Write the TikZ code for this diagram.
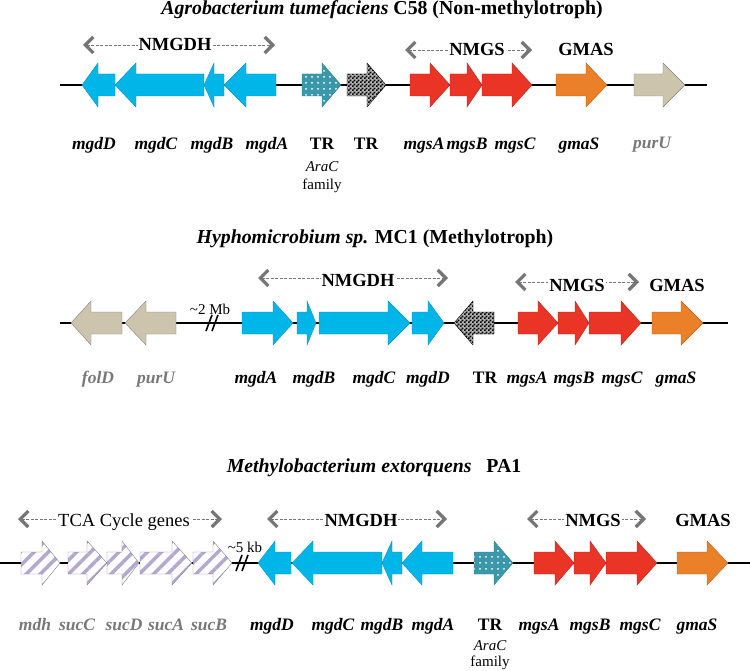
\documentclass[tikz,border=0pt]{standalone}
\usepackage{fontspec}
\setmainfont{Liberation Serif}
\usetikzlibrary{arrows.meta,patterns,patterns.meta}
\definecolor{gcyan}{RGB}{0,182,232}
\definecolor{gred}{RGB}{234,52,38}
\definecolor{gorange}{RGB}{234,128,40}
\definecolor{gtan}{RGB}{204,196,172}
\definecolor{gteal}{RGB}{58,152,170}
\definecolor{glav}{RGB}{180,168,208}
\definecolor{ggray}{RGB}{118,118,118}
\definecolor{lgray}{RGB}{120,120,120}
\pgfdeclarepatternformonly{finechecker}{\pgfpointorigin}{\pgfqpoint{4pt}{4pt}}{\pgfqpoint{4pt}{4pt}}{%
 \pgfpathrectangle{\pgfpointorigin}{\pgfqpoint{2pt}{2pt}}%
 \pgfpathrectangle{\pgfqpoint{2pt}{2pt}}{\pgfqpoint{2pt}{2pt}}%
 \pgfusepath{fill}}
\newcommand\rgene[5]{\draw[#1] (#2,#5-11) -- (#3,#5-11) -- (#3,#5-22) -- (#4,#5) -- (#3,#5+22) -- (#3,#5+11) -- (#2,#5+11) -- cycle;}
\newcommand\lgene[5]{\draw[#1] (#2,#5) -- (#3,#5-22) -- (#3,#5-11) -- (#4,#5-11) -- (#4,#5+11) -- (#3,#5+11) -- (#3,#5+22) -- cycle;}
\tikzset{
  cyang/.style={fill=gcyan, draw=gcyan!80!black, line width=0.4pt},
  redg/.style={fill=gred, draw=gred!75!black, line width=0.4pt},
  orangeg/.style={fill=gorange, draw=gorange!75!black, line width=0.4pt},
  tang/.style={fill=gtan, draw=gray, line width=0.4pt},
  dotg/.style={preaction={fill=gteal}, pattern={Dots[distance=6pt,radius=1pt]}, pattern color=white, draw=gteal!80!black, line width=0.4pt},
  checkg/.style={preaction={fill=gray!60}, pattern=finechecker, pattern color=black, draw=black, line width=0.4pt},
  stripeg/.style={preaction={fill=white}, pattern={Lines[angle=45,distance=10pt,line width=3.5pt]}, pattern color=glav, draw=gray, line width=0.4pt},
  chrom/.style={line width=1.6pt, black},
  brk/.style={line width=1.6pt, black},
  rng/.style={ggray, line width=0.7pt, dash pattern=on 3pt off 1.5pt, {Straight Barb[length=8pt,width=16pt,line width=3.2pt]}-{Straight Barb[length=8pt,width=16pt,line width=3.2pt]}},
  lbl/.style={anchor=base, inner sep=0pt, font=\fontsize{17.5}{20}\selectfont\bfseries\itshape},
  glbl/.style={lbl, text=lgray},
  trl/.style={anchor=base, inner sep=0pt, font=\fontsize{17.5}{20}\selectfont\bfseries},
  small/.style={anchor=base, inner sep=0pt, font=\fontsize{15}{16}\selectfont},
  grp/.style={anchor=base, inner sep=1pt, fill=white, font=\fontsize{18.5}{20}\selectfont\bfseries},
  ttl/.style={anchor=base, inner sep=0pt, font=\fontsize{19.8}{22}\selectfont\bfseries},
}
\begin{document}
\begin{tikzpicture}[x=1pt,y=-1pt]
\useasboundingbox (0,0) rectangle (750,671);
% ---------------- Row 1 ----------------
\node[ttl] (t1) at (382,15) {\itshape Agrobacterium tumefaciens\/ \upshape C58 (Non-methylotroph)};
\coordinate (r1a) at (60,85); \coordinate (r1b) at (707,85);
\draw[chrom] (r1a) -- (r1b);
\lgene{cyang}{82}{98}{115}{85}
\lgene{cyang}{115}{136}{204}{85}
\lgene{cyang}{204}{214}{224}{85}
\lgene{cyang}{224}{246}{276}{85}
\rgene{dotg}{302}{322}{341}{85}
\rgene{checkg}{347}{367}{386}{85}
\rgene{redg}{410}{430}{450}{85}
\rgene{redg}{450}{467}{482}{85}
\rgene{redg}{482}{512}{532}{85}
\rgene{orangeg}{556}{586}{607}{85}
\rgene{tang}{634}{663}{685}{85}
\coordinate (n1a) at (83,45); \coordinate (n1b) at (275,45);
\draw[rng] (n1a) -- (n1b);
\node[grp] (n1) at (175,51) {NMGDH};
\coordinate (s1a) at (405,50); \coordinate (s1b) at (532,50);
\draw[rng] (s1a) -- (s1b);
\node[grp] (s1) at (477,56) {NMGS};
\node[grp] (g1) at (586,56) {GMAS};
\node[lbl] (l1a) at (94,150) {mgdD};
\node[lbl] (l1b) at (156,150) {mgdC};
\node[lbl] (l1c) at (212,150) {mgdB};
\node[lbl] (l1d) at (267,150) {mgdA};
\node[trl] (l1e) at (322,150) {TR};
\node[small] (l1e2) at (322,172) {\itshape AraC};
\node[small] (l1e3) at (322,190) {family};
\node[trl] (l1f) at (366,150) {TR};
\node[lbl] (l1g) at (424,150) {mgsA};
\node[lbl] (l1h) at (467,150) {mgsB};
\node[lbl] (l1i) at (515,150) {mgsC};
\node[lbl] (l1j) at (579,150) {gmaS};
\node[glbl] (l1k) at (652,149) {purU};
% ---------------- Row 2 ----------------
\node[ttl] (t2) at (375,244) {\itshape Hyphomicrobium sp.\/ \upshape MC1 (Methylotroph)};
\coordinate (r2a) at (60,323); \coordinate (r2b) at (728,323);
\draw[chrom] (r2a) -- (r2b);
\lgene{tang}{71}{91}{122}{323}
\lgene{tang}{125}{146}{176}{323}
\draw[brk] (206,331) -- (212,315);
\draw[brk] (212,331) -- (218,315);
\node[small] (mb) at (210,315) {\textasciitilde 2 Mb};
\rgene{cyang}{242}{273}{293}{323}
\rgene{cyang}{297}{307}{316}{323}
\rgene{cyang}{319}{388}{410}{323}
\rgene{cyang}{412}{428}{444}{323}
\lgene{checkg}{454}{473}{494}{323}
\rgene{redg}{518}{538}{558}{323}
\rgene{redg}{558}{575}{589}{323}
\rgene{redg}{589}{621}{641}{323}
\rgene{orangeg}{652}{681}{703}{323}
\coordinate (n2a) at (258,278); \coordinate (n2b) at (448,278);
\draw[rng] (n2a) -- (n2b);
\node[grp] (n2) at (358,287) {NMGDH};
\coordinate (s2a) at (515,282); \coordinate (s2b) at (639,282);
\draw[rng] (s2a) -- (s2b);
\node[grp] (s2) at (577,291) {NMGS};
\node[grp] (g2) at (677,291) {GMAS};
\node[glbl] (l2a) at (98,383) {folD};
\node[glbl] (l2b) at (156,383) {purU};
\node[lbl] (l2c) at (256,383) {mgdA};
\node[lbl] (l2d) at (314,383) {mgdB};
\node[lbl] (l2e) at (374,383) {mgdC};
\node[lbl] (l2f) at (428,383) {mgdD};
\node[trl] (l2g) at (485,383) {TR};
\node[lbl] (l2h) at (527,383) {mgsA};
\node[lbl] (l2i) at (574,383) {mgsB};
\node[lbl] (l2j) at (622,383) {mgsC};
\node[lbl] (l2k) at (676,383) {gmaS};
% ---------------- Row 3 ----------------
\node[ttl] (t3) at (374,472) {\itshape Methylobacterium extorquens\/ \upshape\ \ PA1};
\coordinate (r3a) at (0,563); \coordinate (r3b) at (750,563);
\draw[chrom] (r3a) -- (r3b);
\rgene{stripeg}{21}{42}{60}{563}
\rgene{stripeg}{68}{87}{107}{563}
\rgene{stripeg}{107}{122}{139}{563}
\rgene{stripeg}{140}{172}{192}{563}
\rgene{stripeg}{193}{213}{232}{563}
\draw[brk] (236,571) -- (242,555);
\draw[brk] (242,571) -- (248,555);
\node[small] (kb) at (245,552) {\textasciitilde 5 kb};
\lgene{cyang}{258}{275}{291}{563}
\lgene{cyang}{292}{313}{382}{563}
\lgene{cyang}{382}{392}{402}{563}
\lgene{cyang}{402}{422}{453}{563}
\rgene{dotg}{474}{494}{513}{563}
\rgene{redg}{534}{555}{574}{563}
\rgene{redg}{574}{590}{606}{563}
\rgene{redg}{606}{637}{657}{563}
\rgene{orangeg}{677}{707}{728}{563}
\coordinate (c3a) at (18,519); \coordinate (c3b) at (222,519);
\draw[rng] (c3a) -- (c3b);
\node[grp, font=\fontsize{18.5}{20}\selectfont] (c3) at (124,526) {TCA Cycle genes};
\coordinate (n3a) at (267,519); \coordinate (n3b) at (447,519);
\draw[rng] (n3a) -- (n3b);
\node[grp] (n3) at (361,526) {NMGDH};
\coordinate (s3a) at (527,519); \coordinate (s3b) at (646,519);
\draw[rng] (s3a) -- (s3b);
\node[grp] (s3) at (593,526) {NMGS};
\node[grp] (g3) at (703,526) {GMAS};
\node[glbl] (l3a) at (35,630) {mdh};
\node[glbl] (l3b) at (77,630) {sucC};
\node[glbl] (l3c) at (124,630) {sucD};
\node[glbl] (l3d) at (166,630) {sucA};
\node[glbl] (l3e) at (209,630) {sucB};
\node[lbl] (l3f) at (272,630) {mgdD};
\node[lbl] (l3g) at (333,630) {mgdC};
\node[lbl] (l3h) at (382,630) {mgdB};
\node[lbl] (l3i) at (433,630) {mgdA};
\node[trl] (l3j) at (490,630) {TR};
\node[small] (l3j2) at (490,650) {\itshape AraC};
\node[small] (l3j3) at (490,666) {family};
\node[lbl] (l3k) at (539,630) {mgsA};
\node[lbl] (l3l) at (590,630) {mgsB};
\node[lbl] (l3m) at (640,630) {mgsC};
\node[lbl] (l3n) at (697,630) {gmaS};
\end{tikzpicture}
\end{document}
